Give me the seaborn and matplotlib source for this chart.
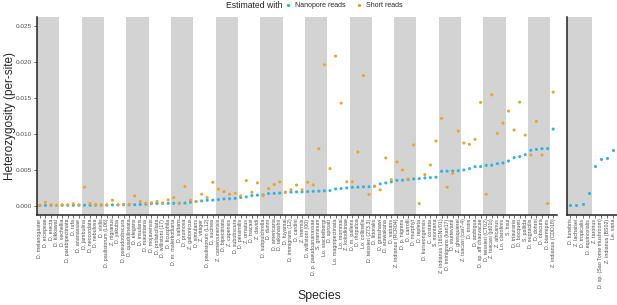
import matplotlib
matplotlib.use("Agg")
import numpy as np
import pandas as pd
import matplotlib.pyplot as plt
import seaborn as sns
from matplotlib.lines import Line2D


# ── data ───────────────────────────────────────────────────────────────────────
species_left = [
    "D. melanogaster", "D. ercepeae", "D. erecta", "D. kikkawai",
    "D. sechellia", "D. parabipectinata", "D. rufa", "D. ananassae",
    "D. jambulina", "D. neocordata", "D. nebulosa", "D. virilis",
    "D. paulistorum (L06)", "Z. nigranus", "D. yakuba", "D. pseudoobscura",
    "D. quadrilineata", "D. elegans", "D. insularis", "D. mauritiana",
    "D. mojavensis", "D. prolaticiliata", "D. willistoni (17)", "D. ficusphila",
    "D. m. malerkotliana", "D. saltans", "D. pruinosa", "Z. gabonicus",
    "D. simulans", "Z. vittiger", "D. paulistorum (L12)", "D. sucinea",
    "Z. camerounensis", "D. bipectinata", "Z. capensis", "D. subobscura",
    "D. persimilis", "Z. ornatus", "D. tsacasi", "Z. davidi",
    "D. subpulchrella", "D. dunni", "D. americana", "D. takahashii",
    "D. fuyamai", "D. immigrans (12)", "D. cardini", "Z. inermis",
    "D. willistoni (00)", "D. p. pseudoananassae", "S. graminum", "Lo. stackelbergi",
    "D. sproati", "Lo. magnipectinata", "Lo. mommai", "Z. kolodkinae",
    "D. m. pallens", "D. rhopaloa", "Lo. collinella", "D. teissieri (273.3)",
    "D. littoralis", "D. grimshawi", "D. arawakana", "D. varians",
    "Z. indianus (RCR04)", "D. p. nigrens", "D. carrolli", "D. murphyi",
    "D. repleta", "D. kurseongensis", "C. costata", "S. montana",
    "Z. indianus (16GNV01)", "D. immigrans (kari17)", "D. sturtevanti", "Z. ghesquierei",
    "Z. tsacasi (car7-4)", "D. tristis", "D. ambigua", "D. sp. aff chauvacae",
    "D. teissieri (CT02)", "Z. tsacasi (jd01t)", "Z. africanus", "Lo. clarofinis",
    "S. hsui", "D. triauraria", "D. bocqueti", "S. pallida",
    "D. eugracilis", "D. dohrni", "D. obscura", "D. biarmipes",
    "Z. indianus (CDD18)",
]

nanopore_left = [
    0.00000, 0.00002, 0.00003, 0.00003, 0.00003, 0.00003, 0.00003, 0.00004,
    0.00004, 0.00004, 0.00005, 0.00005, 0.00006, 0.00008, 0.00009, 0.00010,
    0.00010, 0.00011, 0.00015, 0.00018, 0.00026, 0.00028, 0.00029, 0.00030,
    0.00031, 0.00032, 0.00034, 0.00046, 0.00056, 0.00064, 0.00073, 0.00075,
    0.00083, 0.00092, 0.00095, 0.00100, 0.00112, 0.00120, 0.00138, 0.00144,
    0.00147, 0.00167, 0.00170, 0.00173, 0.00184, 0.00186, 0.00189, 0.00191,
    0.00194, 0.00198, 0.00200, 0.00204, 0.00208, 0.00231, 0.00236, 0.00245,
    0.00254, 0.00256, 0.00260, 0.00261, 0.00269, 0.00301, 0.00315, 0.00329,
    0.00351, 0.00353, 0.00361, 0.00370, 0.00375, 0.00384, 0.00389, 0.00394,
    0.00477, 0.00478, 0.00481, 0.00486, 0.00495, 0.00514, 0.00541, 0.00543,
    0.00559, 0.00561, 0.00583, 0.00593, 0.00620, 0.00667, 0.00681, 0.00708,
    0.00769, 0.00782, 0.00791, 0.00793, 0.01065,
]

short_left = [
    0.00005, 0.00046, 0.00010, 0.00005, 0.00010, 0.00010, 0.00023, 0.00010,
    0.00255, 0.00028, 0.00014, 0.00010, 0.00010, 0.00074, 0.00010, 0.00019,
    0.00019, 0.00134, 0.00056, 0.00032, 0.00037, 0.00056, 0.00037, 0.00079,
    0.00111, 0.00032, 0.00264, 0.00074, 0.00056, 0.00157, 0.00111, 0.00324,
    0.00227, 0.00194, 0.00157, 0.00171, 0.00134, 0.00347, 0.00185, 0.00315,
    0.00139, 0.00236, 0.00292, 0.00329, 0.00185, 0.00220, 0.00285, 0.00220,
    0.00324, 0.00287, 0.00790, 0.01960, 0.00514, 0.02080, 0.01426, 0.00330,
    0.00330, 0.00745, 0.01810, 0.00153, 0.00268, 0.00218, 0.00662, 0.00361,
    0.00607, 0.00495, 0.00370, 0.00843, 0.00028, 0.00430, 0.00565, 0.00898,
    0.01213, 0.00255, 0.00449, 0.01037, 0.00870, 0.00852, 0.00921, 0.01435,
    0.00157, 0.01542, 0.01005, 0.01148, 0.01315, 0.01051, 0.01440, 0.00981,
    0.00704, 0.01171, 0.00704, 0.00028, 0.01579,
]

species_right = [
    "D. funebris", "Z. lachaisei", "D. tropicalis", "D. equinoxialis",
    "Z. taronus", "D. sp. (Sao Tome mushroom)", "Z. indianus (BS02)", "Le. varia",
]
nanopore_right = [0.00004, 0.00004, 0.00023, 0.00171, 0.00556, 0.00653, 0.00657, 0.00773]

methods = ["Nanopore reads", "Short reads"]
palette = {"Nanopore reads": "#27B4E6", "Short reads": "#EFA12A"}
y_ticks = [0.000, 0.005, 0.010, 0.015, 0.020, 0.025]

# nanopore rows first so short-read points are drawn on top
left_df = pd.concat([
    pd.DataFrame({"species": species_left, "het": nanopore_left, "method": methods[0]}),
    pd.DataFrame({"species": species_left, "het": short_left, "method": methods[1]}),
], ignore_index=True)
right_df = pd.DataFrame({"species": species_right, "het": nanopore_right, "method": methods[0]})


# ── figure ─────────────────────────────────────────────────────────────────────
sns.set_theme(style="ticks")
plt.rcParams["font.family"] = ["Liberation Sans", "DejaVu Sans"]

W, H = 617, 305
fig = plt.figure(figsize=(W / 100, H / 100), dpi=100)
ax_l = fig.add_axes([36.5 / W, 1 - 214.5 / H, 520 / W, 197.5 / H])
ax_r = fig.add_axes([566.5 / W, 1 - 214.5 / H, 50.5 / W, 197.5 / H])

for ax, df, order in [(ax_l, left_df, species_left), (ax_r, right_df, species_right)]:
    # alternating grey bands, 4 species wide
    for start in range(0, len(order), 8):
        ax.axvspan(start - 0.5, start + 3.5, color="#D3D3D3", lw=0, zorder=0)
    sns.stripplot(
        data=df, x="species", y="het", hue="method", order=order,
        hue_order=methods, palette=palette, jitter=False, size=2.2,
        linewidth=0, legend=False, ax=ax, zorder=3,
    )
    ax.set_xlim(-0.6, len(order) - 0.4)
    ax.set_ylim(-0.00125, 0.02625)
    ax.set_xlabel("")
    ax.set_ylabel("")
    ax.spines[["top", "right"]].set_visible(False)
    for s in ["left", "bottom"]:
        ax.spines[s].set_linewidth(1.1)
        ax.spines[s].set_color("#222222")
    ax.tick_params(axis="x", labelrotation=90, labelsize=3.8, length=2,
                   width=0.5, pad=1, color="#333333", labelcolor="#4D4D4D")
    ax.set_facecolor("white")

ax_l.set_yticks(y_ticks)
ax_l.set_yticklabels([f"{v:.3f}" for v in y_ticks])
ax_l.tick_params(axis="y", labelsize=4.6, length=2, width=0.5, pad=1.5,
                 color="#333333", labelcolor="#4D4D4D")
ax_r.tick_params(axis="y", left=False, labelleft=False)

# axis titles
fig.text(10 / W, 1 - 116 / H, "Heterozygosity (per-site)", rotation=90,
         ha="center", va="center", fontsize=8.5)
fig.text(319 / W, 1 - 296 / H, "Species", ha="center", va="center", fontsize=8.8)

# legend on top
fig.text(226 / W, 1 - 5.5 / H, "Estimated with", ha="left", va="center", fontsize=6.2)
handles = [Line2D([], [], marker="o", ls="", color=palette[m], markersize=2.4,
                  markeredgewidth=0) for m in methods]
fig.legend(handles, methods, ncol=2, loc="center left",
           bbox_to_anchor=(285 / W, 1 - 5.5 / H), frameon=False, fontsize=5,
           handlelength=0.8, handletextpad=0.6, columnspacing=1.6,
           borderaxespad=0, borderpad=0)

fig.savefig("out.png", dpi=100)
